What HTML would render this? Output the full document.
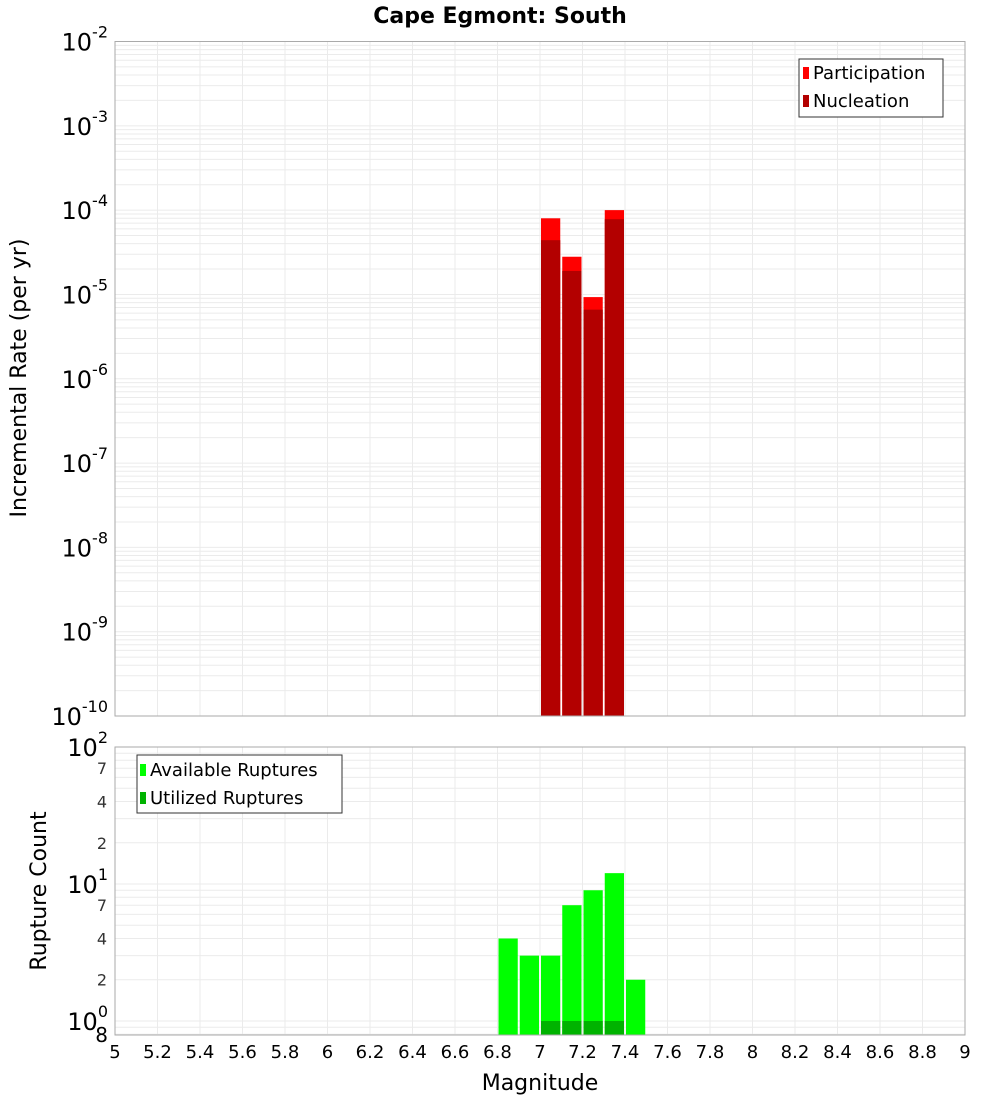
<!DOCTYPE html>
<html><head><meta charset="utf-8"><style>
body{margin:0;background:#fff;}
svg{display:block;font-family:"DejaVu Sans","Liberation Sans",sans-serif;}
</style></head><body>
<svg id="chart" width="1000" height="1100">
<text x="500" y="23" text-anchor="middle" font-weight="bold" font-size="22">Cape Egmont: South</text>
<g id="topplot"></g>
<g id="botplot"></g>
<text transform="translate(26,378) rotate(-90)" text-anchor="middle" font-size="22">Incremental Rate (per yr)</text>
<text transform="translate(46,891) rotate(-90)" text-anchor="middle" font-size="22">Rupture Count</text>
<text x="540" y="1090" text-anchor="middle" font-size="22">Magnitude</text>
</svg>
<script>
const magBins=[7.0,7.1,7.2,7.3];
const participation=[8e-5,2.8e-5,9.3e-6,1.0e-4];
const nucleation=[4.4e-5,1.9e-5,6.6e-6,7.8e-5];
const countBins=[6.8,6.9,7.0,7.1,7.2,7.3,7.4];
const available=[4,3,3,7,9,12,2];
const utilizedBins=[7.0,7.1,7.2,7.3];
const utilized=[1,1,1,1];
const xTicks=[5,5.2,5.4,5.6,5.8,6,6.2,6.4,6.6,6.8,7,7.2,7.4,7.6,7.8,8,8.2,8.4,8.6,8.8,9];
const topDecades=[-2,-3,-4,-5,-6,-7,-8,-9,-10];

const NS="http://www.w3.org/2000/svg";
const svg=document.getElementById('chart');
const X0=115,X1=965;
const x=m=>X0+(m-5)/4*(X1-X0);
const T0=41.5,T1=716;
const yT=v=>T0+(-2-Math.log10(v))/8*(T1-T0);
const B0=747,B1=1035,bMin=Math.log10(0.79),bMax=2;
const yB=v=>B0+(bMax-Math.log10(v))/(bMax-bMin)*(B1-B0);
function el(tag,attrs,parent){const e=document.createElementNS(NS,tag);for(const k in attrs)e.setAttribute(k,attrs[k]);(parent||svg).appendChild(e);return e;}
const topG=document.getElementById('topplot'),botG=document.getElementById('botplot');

for(let d=-10;d<-2;d++)for(let k=1;k<10;k++){const v=k*Math.pow(10,d);const yy=yT(v);
 const g=el('line',{x1:X0,x2:X1,y1:yy,y2:yy,stroke:'#ebebeb','stroke-width':1},topG);
 
 }
xTicks.forEach(t=>{const g=el('line',{x1:x(t),x2:x(t),y1:T0,y2:T1,stroke:'#ebebeb'},topG);
 
 });
magBins.forEach((m,i)=>{
 const r=el('rect',{x:x(m)+1,y:yT(participation[i]),width:x(m+0.1)-x(m)-2,height:T1-yT(participation[i]),fill:'#ff0000'},topG);
 
 
 const n=el('rect',{x:x(m)+1,y:yT(nucleation[i]),width:x(m+0.1)-x(m)-2,height:T1-yT(nucleation[i]),fill:'#b30000'},topG);
 
 
});
el('rect',{x:X0,y:T0,width:X1-X0,height:T1-T0,fill:'none',stroke:'#aaa'},topG);
topDecades.forEach(d=>{const t=el('text',{x:108,y:yT(Math.pow(10,d))+9,'text-anchor':'end','font-size':24},topG);
 
 
 t.textContent='10';const s=el('tspan',{dy:-13,'font-size':16},t);s.textContent=String(d);});
(function(){const g=el('g',{},topG);
 
 
 el('rect',{x:799,y:59,width:144,height:58,fill:'#fff',stroke:'#333'},g);
 [['Participation','#ff0000',73],['Nucleation','#b30000',101]].forEach(([l,c,yy])=>{
  el('rect',{x:803,y:yy-6,width:6,height:12,fill:c},g);
  const t=el('text',{x:813,y:yy+6,'font-size':18},g);t.textContent=l;
  
  });})();

for(let d=-1;d<2;d++)for(let k=1;k<10;k++){const v=k*Math.pow(10,d);if(v<0.79)continue;const yy=yB(v);
 const g=el('line',{x1:X0,x2:X1,y1:yy,y2:yy,stroke:'#ebebeb'},botG);
 
 }
xTicks.forEach(t=>{const g=el('line',{x1:x(t),x2:x(t),y1:B0,y2:B1,stroke:'#ebebeb'},botG);
 
 });
countBins.forEach((m,i)=>{const r=el('rect',{x:x(m)+1,y:yB(available[i]),width:x(m+0.1)-x(m)-2,height:B1-yB(available[i]),fill:'#00ff00'},botG);
 
 });
utilizedBins.forEach((m,i)=>{const r=el('rect',{x:x(m)+1,y:yB(utilized[i]),width:x(m+0.1)-x(m)-2,height:B1-yB(utilized[i]),fill:'#00b300'},botG);
 
 });
el('rect',{x:X0,y:B0,width:X1-X0,height:B1-B0,fill:'none',stroke:'#aaa'},botG);
[[100,'2'],[10,'1'],[1,'0']].forEach(([v,e])=>{const t=el('text',{x:108,y:yB(v)+9,'text-anchor':'end','font-size':24},botG);
 
 
 t.textContent='10';const s=el('tspan',{dy:-13,'font-size':16},t);s.textContent=e;});
[[70,'7'],[40,'4'],[20,'2'],[7,'7'],[4,'4'],[2,'2']].forEach(([v,l])=>{const t=el('text',{x:107,y:yB(v)+6,'text-anchor':'end','font-size':16,fill:'#333'},botG);
 
 t.textContent=l;});
(function(){const t=el('text',{x:108,y:1042,'text-anchor':'end','font-size':20},botG);t.textContent='8';
 
 })();
(function(){const g=el('g',{},botG);
 
 
 el('rect',{x:137,y:755,width:205,height:58,fill:'#fff',stroke:'#333'},g);
 [['Available Ruptures','#00ff00',770],['Utilized Ruptures','#00b300',798]].forEach(([l,c,yy])=>{
  el('rect',{x:140,y:yy-6,width:6,height:12,fill:c},g);
  const t=el('text',{x:150,y:yy+6,'font-size':18},g);t.textContent=l;
  
  });})();
xTicks.forEach(t=>{const tx=el('text',{x:x(t),y:1058,'text-anchor':'middle','font-size':18},svg);
 
 
 tx.textContent=String(t);});
</script>
</body></html>
